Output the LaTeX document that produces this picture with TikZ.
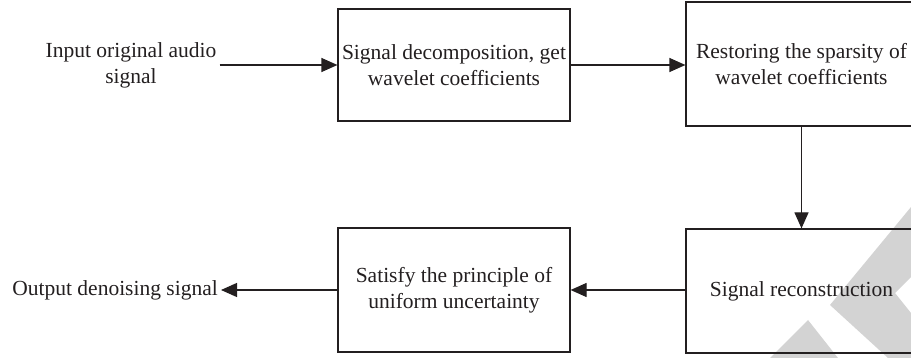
\documentclass[tikz,border=0pt]{standalone}
\usepackage{fontspec}
\setmainfont{Liberation Serif}
\usetikzlibrary{arrows.meta}
\definecolor{ink}{HTML}{231F20}
\definecolor{markgrey}{HTML}{D3D3D3}
\begin{document}
\begin{tikzpicture}[x=1pt,y=-1pt,
  lbl/.style={font=\fontsize{21.5}{26}\selectfont, text=ink, align=center, inner sep=3pt},
  blk/.style={lbl, draw=ink, line width=1.2pt, rectangle, minimum width=232pt},
  flow/.style={draw=ink, line width=1.2pt, -{Triangle[length=16pt,width=14pt]}}]
\useasboundingbox (0,0) rectangle (911,358);
\clip (0,0) rectangle (911,358);

% light grey logo shapes in the lower right corner
\fill[markgrey] (911,207) -- (830,305) -- (888,358) -- (911,358) -- (911,313)
  -- (895,293) -- (911,277) -- cycle;
\fill[markgrey] (808,320) -- (770,358) -- (838,358) -- cycle;

% processing blocks
\node[blk, minimum height=112pt] (dec) at (454,65) {Signal decomposition, get\\wavelet coefficients};
\node[blk, minimum height=124pt, minimum width=231pt] (res) at (801.5,64) {Restoring the sparsity of\\wavelet coefficients};
\node[blk, minimum height=124pt, minimum width=231pt] (rec) at (801.5,291) {Signal reconstruction};
\node[blk, minimum height=124pt] (sat) at (454,290) {Satisfy the principle of\\uniform uncertainty};

% input and output labels
\node[lbl] (in) at (131,65) {Input original audio\\signal};
\node[lbl, anchor=east] (out) at (221,290) {Output denoising signal};

% connectors
\draw[flow] (in.east) -- (dec.west);
\draw[flow] (dec.east) -- (dec.east -| res.west);
\draw[flow] (res.south) -- (rec.north);
\draw[flow] (sat.east -| rec.west) -- (sat.east);
\draw[flow] (sat.west) -- (out.east);
\end{tikzpicture}
\end{document}
